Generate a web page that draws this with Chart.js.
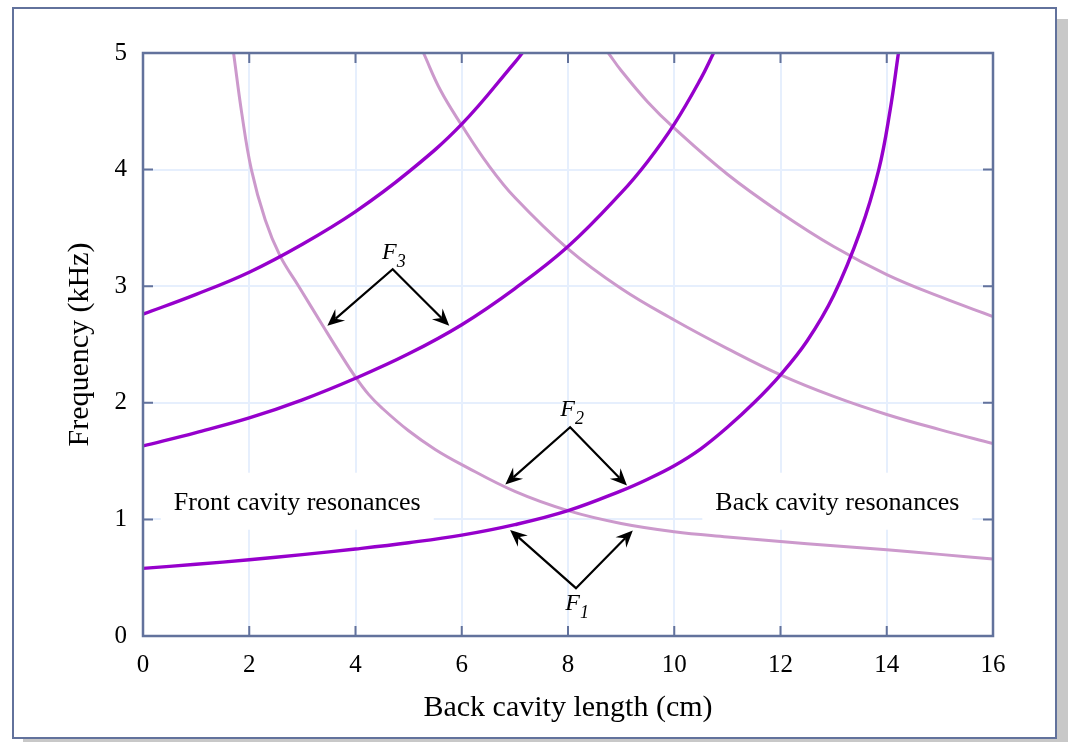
<!DOCTYPE html>
<html>
<head>
<meta charset="utf-8">
<script src="https://cdn.jsdelivr.net/npm/chart.js@4.4.1/dist/chart.umd.min.js"></script>
<style>
  html, body { margin: 0; padding: 0; background: #fff; }
  #wrap { position: relative; width: 1068px; height: 742px; overflow: hidden; }
  #frame {
    position: absolute; left: 12px; top: 7px; width: 1041px; height: 728px;
    border: 2px solid #62729c; box-shadow: 11px 12px 0 #c8c8c8; background: #fff;
  }
  #chart { position: absolute; left: 0; top: 0; }
</style>
</head>
<body>
<div id="wrap">
  <div id="frame"></div>
  <canvas id="chart" width="1068" height="742"></canvas>
</div>
<script>
// front cavity resonances (rise with back cavity length)
const f1Length = [0, 1, 2, 3, 4, 5, 6, 7, 8, 9, 9.5, 10, 10.5, 11, 11.5, 12, 12.5, 13, 13.5, 13.85, 14.06, 14.22];
const f1Freq   = [0.58, 0.615, 0.654, 0.698, 0.746, 0.8, 0.865, 0.955, 1.075, 1.245, 1.345, 1.46, 1.605, 1.79, 2.0, 2.24, 2.53, 2.92, 3.47, 4.0, 4.5, 5.0];
const f2Length = [0, 1, 2, 3, 4, 5, 6, 7, 8, 9, 9.5, 10, 10.5, 10.74];
const f2Freq   = [1.63, 1.745, 1.87, 2.025, 2.21, 2.42, 2.67, 2.98, 3.34, 3.8, 4.07, 4.39, 4.78, 5.0];
const f3Length = [0, 1, 2, 3, 4, 5, 6, 7, 7.14];
const f3Freq   = [2.76, 2.93, 3.12, 3.36, 3.64, 3.98, 4.39, 4.92, 5.0];

// back cavity resonances (fall with back cavity length)
const b1Length = [1.705, 1.86, 2.04, 2.3, 2.58, 2.93, 3.4, 3.7, 4, 4.25, 4.5, 5, 5.5, 6, 7, 8, 9, 10, 11, 12, 13, 14, 15, 16];
const b1Freq   = [5.0, 4.48, 4.0, 3.57, 3.26, 3.0, 2.65, 2.43, 2.22, 2.07, 1.955, 1.76, 1.6, 1.47, 1.24, 1.075, 0.965, 0.895, 0.85, 0.81, 0.775, 0.74, 0.7, 0.66];
const b2Length = [5.28, 5.6, 6, 6.5, 7, 8, 9, 10, 11, 12, 13, 14, 15, 16];
const b2Freq   = [5.0, 4.68, 4.38, 4.04, 3.76, 3.32, 2.98, 2.71, 2.465, 2.24, 2.055, 1.9, 1.77, 1.65];
const b3Length = [8.76, 9, 9.5, 10, 11, 12, 13, 14, 15, 16];
const b3Freq   = [5.0, 4.85, 4.58, 4.355, 3.96, 3.63, 3.34, 3.1, 2.91, 2.74];

const xTicks = [0, 2, 4, 6, 8, 10, 12, 14, 16];
const yTicks = [0, 1, 2, 3, 4, 5];

// text notes: anchor given in data units
const bandNotes = [
  { text: 'Front cavity resonances', x: 2.904, y: 1.083 },
  { text: 'Back cavity resonances', x: 13.07, y: 1.083 }
];
const formantArrows = [
  { sub: '3', apex: [4.70, 3.145], tips: [[3.47, 2.66], [5.765, 2.66]], at: [4.50, 3.23] },
  { sub: '2', apex: [8.04, 1.79], tips: [[6.82, 1.30], [9.11, 1.29]], at: [7.855, 1.883] },
  { sub: '1', apex: [8.15, 0.41], tips: [[6.91, 0.91], [9.22, 0.905]], at: [7.95, 0.2256] }
];

const serif = '"Liberation Serif", "Times New Roman", serif';
const axisColor = '#62729c';
const gridColor = '#e6effd';
const darkPurple = '#9600cc';
const lightPurple = '#cc99cc';

function pairUp(xs, ys) {
  return xs.map((x, i) => ({ x: x, y: ys[i] }));
}

function curve(xs, ys, color, width) {
  return {
    data: pairUp(xs, ys),
    borderColor: color,
    borderWidth: width,
    pointRadius: 0,
    showLine: true,
    fill: false,
    tension: 0.4
  };
}

function arrowHead(ctx, x0, y0, x1, y1) {
  const ang = Math.atan2(y1 - y0, x1 - x0);
  const len = 17, half = 7.5, notch = 11;
  ctx.save();
  ctx.translate(x1, y1);
  ctx.rotate(ang);
  ctx.beginPath();
  ctx.moveTo(0, 0);
  ctx.lineTo(-len, -half);
  ctx.lineTo(-notch, 0);
  ctx.lineTo(-len, half);
  ctx.closePath();
  ctx.fill();
  ctx.restore();
}

const decor = {
  id: 'decor',
  beforeDatasetsDraw(chart) {
    const { ctx, scales: { x, y } } = chart;
    ctx.save();
    ctx.font = '26px ' + serif;
    ctx.textBaseline = 'alphabetic';
    ctx.textAlign = 'center';
    bandNotes.forEach(n => {
      const cx = x.getPixelForValue(n.x);
      const by = y.getPixelForValue(n.y);
      const w = ctx.measureText(n.text).width;
      ctx.fillStyle = '#fff';
      ctx.fillRect(cx - w / 2 - 13, by - 37, w + 26, 57);
      ctx.fillStyle = '#000';
      ctx.fillText(n.text, cx, by);
    });
    ctx.restore();
  },
  afterDatasetsDraw(chart) {
    const { ctx, chartArea: a, scales: { x, y } } = chart;
    ctx.save();
    // box frame with inward ticks
    ctx.strokeStyle = axisColor;
    ctx.lineWidth = 2.5;
    ctx.strokeRect(a.left, a.top, a.right - a.left, a.bottom - a.top);
    ctx.lineWidth = 2;
    ctx.beginPath();
    xTicks.slice(1, -1).forEach(v => {
      const px = x.getPixelForValue(v);
      ctx.moveTo(px, a.bottom); ctx.lineTo(px, a.bottom - 10);
      ctx.moveTo(px, a.top); ctx.lineTo(px, a.top + 10);
    });
    yTicks.slice(1, -1).forEach(v => {
      const py = y.getPixelForValue(v);
      ctx.moveTo(a.left, py); ctx.lineTo(a.left + 10, py);
      ctx.moveTo(a.right, py); ctx.lineTo(a.right - 10, py);
    });
    ctx.stroke();

    // formant arrows
    ctx.strokeStyle = '#000';
    ctx.fillStyle = '#000';
    ctx.lineWidth = 2.2;
    ctx.lineJoin = 'miter';
    formantArrows.forEach(f => {
      const ax = x.getPixelForValue(f.apex[0]);
      const ay = y.getPixelForValue(f.apex[1]);
      const ends = f.tips.map(t => {
        const tx = x.getPixelForValue(t[0]);
        const ty = y.getPixelForValue(t[1]);
        const d = Math.hypot(tx - ax, ty - ay);
        return [tx, ty, tx - (tx - ax) / d * 11, ty - (ty - ay) / d * 11];
      });
      ctx.beginPath();
      ctx.moveTo(ends[0][2], ends[0][3]);
      ctx.lineTo(ax, ay);
      ctx.lineTo(ends[1][2], ends[1][3]);
      ctx.stroke();
      ends.forEach(e => arrowHead(ctx, ax, ay, e[0], e[1]));

      const lx = x.getPixelForValue(f.at[0]);
      const ly = y.getPixelForValue(f.at[1]);
      ctx.textAlign = 'left';
      ctx.textBaseline = 'alphabetic';
      ctx.font = 'italic 24px ' + serif;
      ctx.fillText('F', lx, ly);
      const fw = ctx.measureText('F').width;
      ctx.font = 'italic 18px ' + serif;
      ctx.fillText(f.sub, lx + fw, ly + 8);
    });
    ctx.restore();
  }
};

new Chart(document.getElementById('chart'), {
  type: 'scatter',
  data: {
    datasets: [
      curve(f1Length, f1Freq, darkPurple, 3.4),
      curve(f2Length, f2Freq, darkPurple, 3.4),
      curve(f3Length, f3Freq, darkPurple, 3.4),
      curve(b1Length, b1Freq, lightPurple, 3),
      curve(b2Length, b2Freq, lightPurple, 3),
      curve(b3Length, b3Freq, lightPurple, 3)
    ]
  },
  options: {
    responsive: false,
    animation: false,
    events: [],
    layout: { padding: { left: 40, top: 53, right: 75, bottom: 16 } },
    plugins: { legend: { display: false }, tooltip: { enabled: false } },
    scales: {
      x: {
        type: 'linear', min: 0, max: 16,
        afterFit(s) { s.height = 90; },
        afterBuildTicks(s) { s.ticks = xTicks.map(v => ({ value: v })); },
        grid: { color: gridColor, lineWidth: 2, drawTicks: false },
        border: { display: false },
        ticks: { color: '#000', font: { family: serif, size: 25 }, padding: 14 },
        title: {
          display: true, text: 'Back cavity length (cm)', color: '#000',
          font: { family: serif, size: 30 }, padding: { top: 0, bottom: 0 }
        }
      },
      y: {
        type: 'linear', min: 0, max: 5,
        afterFit(s) { s.width = 103; },
        afterBuildTicks(s) { s.ticks = yTicks.map(v => ({ value: v })); },
        grid: { color: gridColor, lineWidth: 2, drawTicks: false },
        border: { display: false },
        ticks: { color: '#000', font: { family: serif, size: 25 }, padding: 16 },
        title: {
          display: true, text: 'Frequency (kHz)', color: '#000',
          font: { family: serif, size: 30 }, padding: { top: 22, bottom: 0 }
        }
      }
    }
  },
  plugins: [decor]
});
</script>
</body>
</html>
